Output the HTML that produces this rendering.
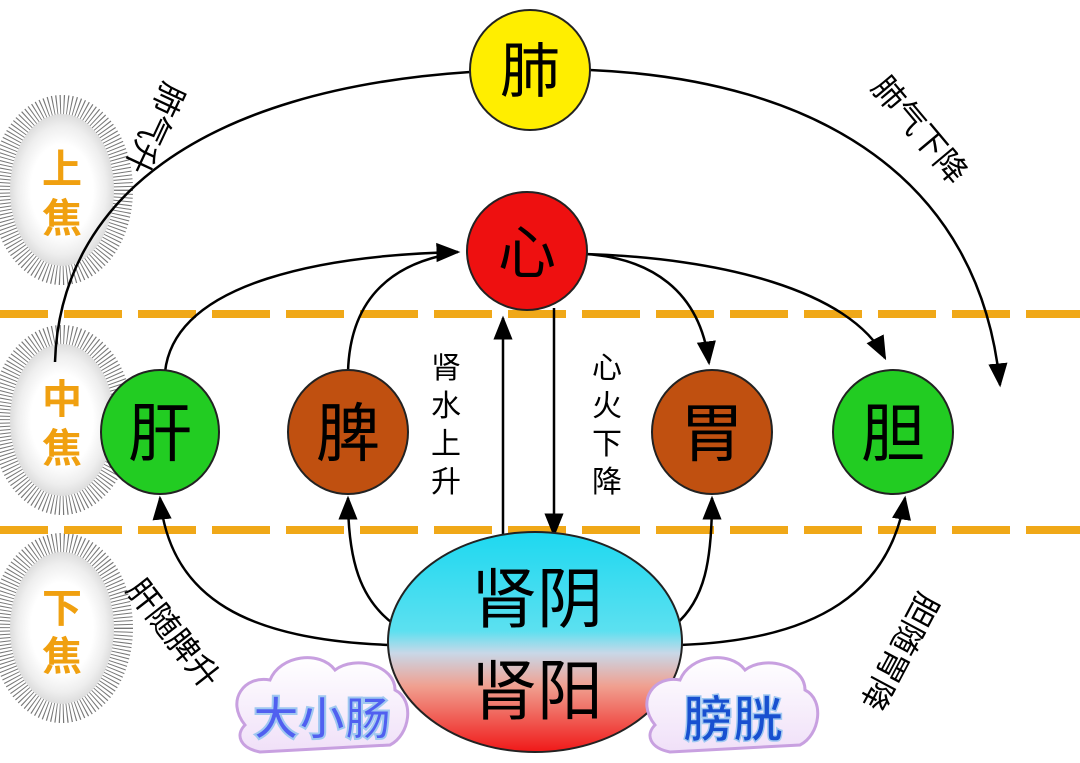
<!DOCTYPE html>
<html><head><meta charset="utf-8"><style>
html,body{margin:0;padding:0;background:#fff;}
svg{display:block;}
text{font-family:"Liberation Sans","Noto Sans CJK SC",sans-serif;}
</style></head><body>
<svg width="1080" height="763" viewBox="0 0 1080 763" xmlns="http://www.w3.org/2000/svg">
<defs>
<marker id="a" viewBox="0 0 10 10" refX="9" refY="5" markerWidth="24" markerHeight="24" orient="auto" markerUnits="userSpaceOnUse">
<path d="M0,1 L10,5 L0,9 z" fill="#000"/></marker>
<radialGradient id="glow" cx="50%" cy="50%" r="50%">
<stop offset="0.6" stop-color="#fff"/><stop offset="0.85" stop-color="#eee"/><stop offset="1" stop-color="#ddd"/></radialGradient>
<linearGradient id="kid" x1="0" y1="0" x2="0" y2="1">
<stop offset="0" stop-color="#1ed8f0"/><stop offset="0.45" stop-color="#5ce0f0"/><stop offset="0.55" stop-color="#c8d8e8"/><stop offset="0.7" stop-color="#f0a090"/><stop offset="1" stop-color="#f01818"/></linearGradient>
<linearGradient id="cl" x1="0" y1="0" x2="0" y2="1"><stop offset="0" stop-color="#fff"/><stop offset="1" stop-color="#f0e0f8"/></linearGradient>
</defs>
<!-- left glows -->
<g>
<ellipse cx="62" cy="190" rx="60" ry="84" fill="none" stroke="#777" stroke-width="22" stroke-dasharray="1,2.5"/>
<ellipse cx="62" cy="420" rx="60" ry="84" fill="none" stroke="#777" stroke-width="22" stroke-dasharray="1,2.5"/>
<ellipse cx="62" cy="628" rx="60" ry="84" fill="none" stroke="#777" stroke-width="22" stroke-dasharray="1,2.5"/>
<ellipse cx="62" cy="190" rx="52" ry="76" fill="url(#glow)"/>
<ellipse cx="62" cy="420" rx="52" ry="76" fill="url(#glow)"/>
<ellipse cx="62" cy="628" rx="52" ry="76" fill="url(#glow)"/>
</g>
<g fill="#f0a010" font-size="40" font-weight="bold" text-anchor="middle">
<text x="62" y="183">上</text><text x="62" y="232">焦</text>
<text x="62" y="413">中</text><text x="62" y="462">焦</text>
<text x="62" y="622">下</text><text x="62" y="670">焦</text>
</g>
<!-- dashed lines -->
<g stroke="#f0a818" stroke-width="8" stroke-dasharray="58,16">
<line x1="-10" y1="314" x2="1080" y2="314"/>
<line x1="-10" y1="530" x2="1080" y2="530"/>
</g>
<g fill="none" stroke="#000" stroke-width="2.5">
<path d="M55,362 C60,200 200,90 470,72"/>
<path d="M590,70 C820,80 980,180 1000,385" marker-end="url(#a)"/>
<path d="M165,372 C175,280 330,255 458,252" marker-end="url(#a)"/>
<path d="M348,372 C350,300 390,268 440,256"/>
<path d="M585,254 C650,258 700,290 709,363" marker-end="url(#a)"/>
<path d="M585,254 C720,258 850,290 885,358" marker-end="url(#a)"/>
<path d="M390,645 C250,640 170,600 160,498" marker-end="url(#a)"/>
<path d="M395,625 C360,600 348,560 348,498" marker-end="url(#a)"/>
<path d="M680,645 C820,640 890,590 905,498" marker-end="url(#a)"/>
<path d="M675,625 C705,600 712,560 712,498" marker-end="url(#a)"/>
<line x1="503" y1="535" x2="503" y2="318" marker-end="url(#a)"/>
<line x1="554" y1="308" x2="554" y2="535" marker-end="url(#a)"/>
</g>
<!-- nodes -->
<circle cx="530" cy="70" r="60" fill="#ffee00" stroke="#222" stroke-width="2"/>
<text x="530" y="92" font-size="60" text-anchor="middle">肺</text>
<ellipse cx="527" cy="251" rx="60" ry="59" fill="#ee1010" stroke="#222" stroke-width="2"/>
<text x="527" y="273" font-size="58" text-anchor="middle">心</text>
<ellipse cx="160" cy="432" rx="59" ry="62" fill="#22cc22" stroke="#222" stroke-width="2"/>
<text x="160" y="456" font-size="64" text-anchor="middle">肝</text>
<ellipse cx="348" cy="432" rx="60" ry="62" fill="#c05010" stroke="#222" stroke-width="2"/>
<text x="348" y="456" font-size="64" text-anchor="middle">脾</text>
<ellipse cx="712" cy="432" rx="60" ry="62" fill="#c05010" stroke="#222" stroke-width="2"/>
<text x="712" y="456" font-size="64" text-anchor="middle">胃</text>
<ellipse cx="893" cy="432" rx="60" ry="62" fill="#22cc22" stroke="#222" stroke-width="2"/>
<text x="893" y="456" font-size="64" text-anchor="middle">胆</text>
<ellipse cx="535" cy="642" rx="147" ry="110" fill="url(#kid)" stroke="#222" stroke-width="2"/>
<text x="537" y="622" font-size="66" text-anchor="middle">肾阴</text>
<text x="537" y="714" font-size="66" text-anchor="middle">肾阳</text>
<!-- vertical labels -->
<g font-size="30" text-anchor="middle">
<text x="446" y="378">肾</text><text x="446" y="416">水</text><text x="446" y="454">上</text><text x="446" y="492">升</text>
<text x="607" y="378">心</text><text x="607" y="416">火</text><text x="607" y="454">下</text><text x="607" y="492">降</text>
</g>
<!-- rotated labels -->
<g font-size="32">
<text transform="translate(165,80) rotate(115)">肺气升</text>
<text transform="translate(870,88) rotate(50)">肺气下降</text>
<text transform="translate(125,590) rotate(52)">肝随脾升</text>
<text transform="translate(920,590) rotate(118)">胆随胃降</text>
</g>
<!-- clouds -->
<g stroke="#c8a0e0" stroke-width="3" fill="url(#cl)">
<path d="M245,725 C225,700 245,675 270,680 C280,655 320,650 335,670 C355,655 395,665 395,690 C415,700 410,735 390,745 L260,752 C240,748 235,735 245,725z"/>
<path d="M655,725 C635,700 655,675 680,680 C690,655 730,650 745,670 C765,655 805,665 805,690 C825,700 820,735 800,745 L670,752 C650,748 645,735 655,725z"/>
</g>
<text x="322" y="735" font-size="46" font-weight="bold" text-anchor="middle" fill="#5060f0" stroke="#a0c8f0" stroke-width="2">大小肠</text>
<text x="733" y="737" font-size="50" font-weight="bold" text-anchor="middle" fill="#1850d0" stroke="#a0c8f0" stroke-width="1.5">膀胱</text>
</svg>
</body></html>
